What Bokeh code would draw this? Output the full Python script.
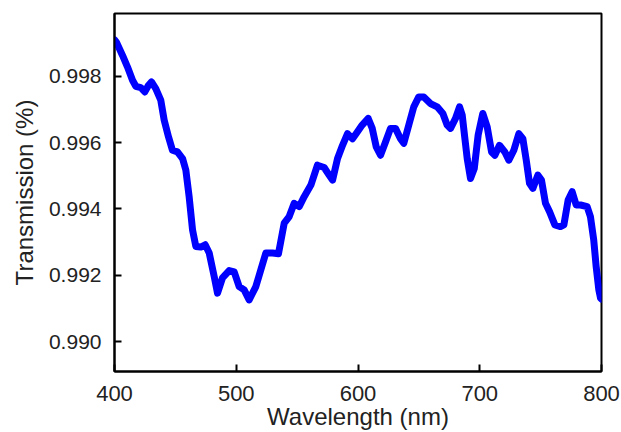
from bokeh.plotting import figure
from bokeh.models import Range1d, FixedTicker, PrintfTickFormatter
from bokeh.embed import file_html
from bokeh.resources import INLINE

wavelength = [400, 401.6, 406.6, 410.7, 414.8, 417.5, 421.6, 424.9, 427.9, 430.4, 433.9,
              438.0, 440.8, 444.4, 447.6, 451.7, 455.9, 458.6, 461.3, 464.1, 466.8,
              470.9, 474.5, 477.8, 481.9, 484.6, 488.7, 494.2, 498.3, 502.4, 506.5,
              510.6, 516.1, 520.2, 524.3, 529.8, 534.7, 539.4, 543.5, 547.6, 551.7,
              555.8, 561.3, 566.7, 572.2, 576.3, 579.1, 583.2, 587.3, 591.4, 595.5,
              599.0, 603.4, 608.4, 611.7, 615.0, 618.5, 622.6, 626.7, 630.8, 634.9,
              637.6, 641.7, 645.8, 649.9, 654.0, 659.5, 665.0, 669.7, 673.2, 676.0,
              680.1, 683.4, 685.6, 687.8, 689.7, 692.4, 695.5, 698.7, 702.5, 706.1,
              709.7, 712.4, 716.2, 720.6, 723.9, 728.0, 732.1, 735.4, 738.2, 740.9,
              743.6, 747.7, 750.7, 754.0, 757.3, 761.7, 766.3, 769.1, 772.6, 775.9,
              779.2, 782.8, 788.2, 790.9, 793.6, 795.6, 797.8, 799.2, 800]
transmission = [0.99910, 0.99903, 0.99863, 0.99828, 0.99788, 0.99770, 0.99766, 0.99753,
                0.99773, 0.99783, 0.99763, 0.99728, 0.99668, 0.99617, 0.99577, 0.99572,
                0.99552, 0.99517, 0.99437, 0.99337, 0.99287, 0.99285, 0.99292, 0.99267,
                0.99196, 0.99146, 0.99192, 0.99214, 0.99210, 0.99166, 0.99156, 0.99126,
                0.99166, 0.99217, 0.99267, 0.99267, 0.99265, 0.99357, 0.99377, 0.99417,
                0.99407, 0.99437, 0.99472, 0.99532, 0.99525, 0.99502, 0.99487, 0.99552,
                0.99592, 0.99627, 0.99612, 0.99630, 0.99653, 0.99673, 0.99643, 0.99587,
                0.99562, 0.99602, 0.99643, 0.99643, 0.99612, 0.99598, 0.99653, 0.99708,
                0.99738, 0.99738, 0.99718, 0.99708, 0.99688, 0.99653, 0.99643, 0.99673,
                0.99708, 0.99683, 0.99612, 0.99552, 0.99492, 0.99522, 0.99623, 0.99688,
                0.99648, 0.99572, 0.99562, 0.99592, 0.99572, 0.99547, 0.99577, 0.99627,
                0.99612, 0.99547, 0.99477, 0.99462, 0.99502, 0.99487, 0.99417, 0.99392,
                0.99352, 0.99347, 0.99352, 0.99427, 0.99452, 0.99412, 0.99412, 0.99407,
                0.99377, 0.99307, 0.99227, 0.99156, 0.99131, 0.99128]

x_ticks = [400, 500, 600, 700, 800]
y_ticks = [0.990, 0.992, 0.994, 0.996, 0.998]
x_title = "Wavelength (nm)"
y_title = "Transmission (%)"

p = figure(width=621, height=432, output_backend="svg", toolbar_location=None,
           x_range=Range1d(400, 800), y_range=Range1d(0.989098, 0.999895),
           min_border_left=114, min_border_right=20, min_border_top=13,
           min_border_bottom=60)

p.line(wavelength, transmission, line_color="#0000FF", line_width=7,
       line_join="round", line_cap="round")

p.xgrid.visible = False
p.ygrid.visible = False
p.outline_line_color = "black"
p.outline_line_width = 2
p.background_fill_color = "white"
p.border_fill_color = "white"

font = "Liberation Sans"
p.xaxis.ticker = FixedTicker(ticks=x_ticks)
p.yaxis.ticker = FixedTicker(ticks=y_ticks)
p.yaxis.formatter = PrintfTickFormatter(format="%.3f")
for ax in (p.xaxis, p.yaxis):
    ax.axis_line_color = "black"
    ax.axis_line_width = 2
    ax.major_tick_in = 7
    ax.major_tick_out = 0
    ax.major_tick_line_width = 2
    ax.minor_tick_line_color = None
    ax.major_label_text_font = font
    ax.major_label_text_font_size = "21px"
    ax.major_label_text_color = "#222222"
    ax.axis_label_text_font = font
    ax.axis_label_text_font_size = "24px"
    ax.axis_label_text_font_style = "normal"
    ax.axis_label_text_color = "#222222"

p.xaxis.major_label_text_font_size = "22px"
p.xaxis.axis_label = x_title
p.yaxis.axis_label = y_title
p.xaxis.major_label_standoff = 14
p.xaxis.axis_label_standoff = -1
p.yaxis.major_label_standoff = 13
p.yaxis.axis_label_standoff = 8

open("out.html", "w").write(file_html(p, INLINE))
